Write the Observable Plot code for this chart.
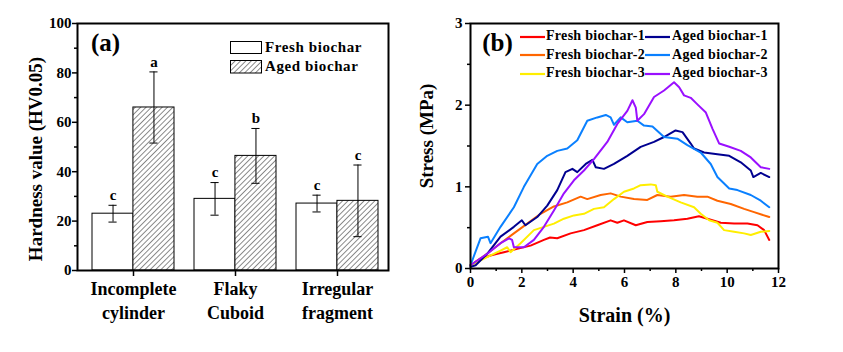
<!DOCTYPE html>
<html><head><meta charset="utf-8">
<script src="https://cdn.jsdelivr.net/npm/d3@7"></script>
<script src="https://cdn.jsdelivr.net/npm/@observablehq/plot@0.6"></script>
<style>
html,body{margin:0;padding:0;background:#fff;}
#fig{position:relative;width:843px;height:352px;overflow:hidden;font-family:"Liberation Serif","Times New Roman",serif;font-weight:bold;color:#000;}
.panel{position:absolute;top:0;}
.lg{position:absolute;white-space:nowrap;}
.sw{position:absolute;}
</style></head><body>
<svg width="0" height="0" style="position:absolute">
  <defs>
    <pattern id="hatch" patternUnits="userSpaceOnUse" width="3.8" height="3.8" patternTransform="rotate(45)">
      <rect width="3.8" height="3.8" fill="white"></rect>
      <line x1="0" y1="0" x2="0" y2="3.8" stroke="black" stroke-width="0.9"></line>
    </pattern>
  </defs>
</svg>
<div id="fig"></div>
<script>
// ---------- Panel (a) data ----------
const categories = ["Incomplete cylinder", "Flaky Cuboid", "Irregular fragment"];
const categoryLabels = ["Incomplete\ncylinder", "Flaky\nCuboid", "Irregular\nfragment"];
const freshHardness = [23.0, 29.0, 27.1];
const freshError = [3.4, 6.6, 3.4];
const agedHardness = [66.0, 46.4, 28.2];
const agedError = [14.4, 11.1, 14.5];
const freshLetters = ["c", "c", "c"];
const agedLetters = ["a", "b", "c"];
const hardnessTicks = [0, 20, 40, 60, 80, 100];
const hardnessMinor = [10, 30, 50, 70, 90];
const barLegend = ["Fresh biochar", "Aged biochar"];

// ---------- Panel (b) data: [strain %, stress MPa] ----------
const fresh1 = [[0,0.04],[0.39,0.12],[0.78,0.16],[1.3,0.2],[1.82,0.24],[2.34,0.28],[2.86,0.35],[3.1,0.38],[3.38,0.37],[3.9,0.43],[4.42,0.47],[4.94,0.53],[5.46,0.59],[5.72,0.56],[5.98,0.59],[6.44,0.53],[6.89,0.57],[7.41,0.58],[7.93,0.59],[8.45,0.61],[8.9,0.64],[9.23,0.61],[9.75,0.56],[10.27,0.55],[10.79,0.55],[11.18,0.53],[11.44,0.47],[11.64,0.35]];
const fresh2 = [[0,0.04],[0.65,0.18],[1.17,0.31],[1.69,0.43],[2.21,0.55],[2.73,0.67],[3.25,0.76],[3.77,0.81],[4.29,0.88],[4.55,0.85],[5.07,0.9],[5.46,0.92],[5.85,0.88],[6.37,0.85],[6.89,0.84],[7.28,0.9],[7.8,0.88],[8.32,0.9],[8.84,0.88],[9.23,0.88],[9.62,0.83],[10.14,0.79],[10.66,0.73],[11.05,0.69],[11.64,0.63]];
const fresh3 = [[0,0.04],[0.65,0.14],[1.17,0.22],[1.43,0.26],[1.56,0.2],[1.95,0.31],[2.47,0.47],[2.86,0.51],[3.25,0.55],[3.64,0.61],[4.03,0.65],[4.42,0.67],[4.81,0.73],[5.2,0.75],[5.59,0.85],[5.98,0.94],[6.37,0.98],[6.63,1.02],[7.02,1.03],[7.22,1.02],[7.28,0.94],[7.67,0.88],[8.19,0.81],[8.71,0.75],[8.97,0.67],[9.3,0.59],[9.62,0.56],[9.88,0.47],[10.27,0.45],[10.66,0.43],[10.92,0.41],[11.31,0.45],[11.64,0.46]];
const aged1 = [[0,0.02],[0.2,0.04],[0.65,0.18],[1.17,0.39],[1.69,0.51],[2.0,0.59],[2.14,0.53],[2.6,0.63],[2.99,0.77],[3.38,0.96],[3.7,1.18],[3.97,1.22],[4.16,1.18],[4.49,1.28],[4.75,1.33],[4.88,1.24],[5.2,1.22],[5.59,1.28],[6.11,1.38],[6.63,1.49],[7.15,1.55],[7.54,1.61],[7.99,1.69],[8.26,1.67],[8.58,1.53],[8.71,1.47],[9.1,1.42],[9.62,1.4],[10.08,1.38],[10.53,1.3],[10.92,1.2],[11.02,1.12],[11.31,1.17],[11.64,1.12]];
const aged2 = [[0,0.04],[0.39,0.37],[0.68,0.39],[0.78,0.31],[1.17,0.51],[1.69,0.75],[2.08,1.0],[2.6,1.28],[2.99,1.38],[3.38,1.44],[3.77,1.47],[4.16,1.57],[4.55,1.81],[4.94,1.85],[5.27,1.88],[5.46,1.85],[5.59,1.76],[5.85,1.85],[6.11,1.79],[6.5,1.81],[6.76,1.75],[7.09,1.74],[7.54,1.61],[8.06,1.59],[8.45,1.51],[8.97,1.42],[9.36,1.28],[9.62,1.12],[10.08,0.98],[10.4,0.96],[10.92,0.9],[11.31,0.83],[11.64,0.75]];
const aged3 = [[0,0.04],[0.65,0.18],[1.17,0.31],[1.5,0.37],[1.62,0.35],[1.69,0.26],[2.08,0.26],[2.47,0.35],[2.86,0.51],[3.25,0.71],[3.64,0.92],[4.03,1.08],[4.42,1.2],[4.81,1.34],[5.33,1.55],[5.72,1.77],[6.11,1.93],[6.31,2.06],[6.44,1.97],[6.5,1.81],[6.76,1.89],[7.15,2.1],[7.54,2.18],[7.93,2.28],[8.13,2.22],[8.32,2.12],[8.58,2.09],[8.84,2.01],[9.17,1.91],[9.43,1.71],[9.69,1.53],[10.08,1.49],[10.53,1.44],[10.92,1.36],[11.31,1.24],[11.64,1.22]];
const seriesNames = ["Fresh biochar-1","Fresh biochar-2","Fresh biochar-3","Aged biochar-1","Aged biochar-2","Aged biochar-3"];
const seriesColors = ["#ff0000","#ff6600","#ffee00","#000090","#0a80ff","#9a10ff"];
const strainTicks = [0, 2, 4, 6, 8, 10, 12];
const strainMinor = [1, 3, 5, 7, 9, 11];
const stressTicks = [0, 1, 2, 3];
const stressMinor = [0.5, 1.5, 2.5];

const FONT = '"Liberation Serif", "Times New Roman", serif';
const fig = document.getElementById("fig");
const fmtInt = d => String(d);

// ---------- Panel (a) ----------
const WA = 400, H = 352;
const mA = {left: 77, right: 12, top: 23, bottom: 82};
const pInner = 0.2, pOuter = 0.12;
const step = (WA - mA.left - mA.right) / (categories.length - pInner + 2 * pOuter);
const band = step * (1 - pInner);
const q = band / 4, cap = 4;

const rowsF = categories.map((c, i) => ({cat: c, v: freshHardness[i], e: freshError[i], lab: freshLetters[i]}));
const rowsG = categories.map((c, i) => ({cat: c, v: agedHardness[i], e: agedError[i], lab: agedLetters[i]}));

const plotA = Plot.plot({
  width: WA, height: H,
  marginLeft: mA.left, marginRight: mA.right, marginTop: mA.top, marginBottom: mA.bottom,
  style: {fontFamily: FONT, fontWeight: "bold", fontSize: "15px", color: "#000", background: "transparent"},
  x: {domain: categories, paddingInner: pInner, paddingOuter: pOuter, align: 0.58, label: null},
  y: {domain: [0, 100], label: null},
  marks: [
    Plot.barY(rowsF, {x: "cat", y: "v", fill: "white", stroke: "black", strokeWidth: 1, insetRight: band / 2}),
    Plot.barY(rowsG, {x: "cat", y: "v", fill: "url(#hatch)", stroke: "black", strokeWidth: 1, insetLeft: band / 2}),
    Plot.ruleX(rowsF, {x: "cat", y1: d => d.v - d.e, y2: d => d.v + d.e, dx: -q, stroke: "black", strokeWidth: 1}),
    Plot.ruleX(rowsG, {x: "cat", y1: d => d.v - d.e, y2: d => d.v + d.e, dx: q, stroke: "black", strokeWidth: 1}),
    Plot.tickY(rowsF, {x: "cat", y: d => d.v + d.e, insetLeft: q - cap, insetRight: band - q - cap, stroke: "black"}),
    Plot.tickY(rowsF, {x: "cat", y: d => d.v - d.e, insetLeft: q - cap, insetRight: band - q - cap, stroke: "black"}),
    Plot.tickY(rowsG, {x: "cat", y: d => d.v + d.e, insetLeft: 3 * q - cap, insetRight: q - cap, stroke: "black"}),
    Plot.tickY(rowsG, {x: "cat", y: d => d.v - d.e, insetLeft: 3 * q - cap, insetRight: q - cap, stroke: "black"}),
    Plot.text(rowsF, {x: "cat", y: d => d.v + d.e, text: "lab", dx: -q, dy: -10, fontSize: 15}),
    Plot.text(rowsG, {x: "cat", y: d => d.v + d.e, text: "lab", dx: q, dy: -10, fontSize: 15}),
    Plot.axisY({ticks: hardnessTicks, tickFormat: fmtInt, tickSize: 5, tickPadding: 1, strokeWidth: 1.5, fontSize: 15, label: null}),
    Plot.axisY({ticks: hardnessMinor, tickSize: 3, tickFormat: () => "", strokeWidth: 1.5, label: null}),
    Plot.axisX({tickSize: 6, tickPadding: 2, strokeWidth: 1.5, fontSize: 18, lineHeight: 1.33, label: null,
      tickFormat: d => categoryLabels[categories.indexOf(d)]}),
    Plot.frame({stroke: "black", strokeWidth: 2}),
    Plot.text(["Hardness value (HV0.05)"], {frameAnchor: "left", textAnchor: "middle", lineAnchor: "middle", rotate: -90, dx: -42, dy: 12, fontSize: 19}),
    Plot.text(["(a)"], {frameAnchor: "top-left", textAnchor: "middle", lineAnchor: "middle", dx: 28, dy: 19, fontSize: 25})
  ]
});
plotA.classList.add("panel");
plotA.style.left = "0px";
fig.appendChild(plotA);

// ---------- Panel (b) ----------
const WB = 443;
const lineData = [];
[fresh1, fresh2, fresh3, aged1, aged2, aged3].forEach((arr, i) => {
  arr.forEach(([s, t]) => lineData.push({series: seriesNames[i], strain: s, stress: t}));
});
const plotB = Plot.plot({
  width: WB, height: H,
  marginLeft: 70, marginRight: 65, marginTop: 23, marginBottom: 84,
  style: {fontFamily: FONT, fontWeight: "bold", fontSize: "15px", color: "#000", background: "transparent"},
  x: {domain: [0, 12], label: null},
  y: {domain: [0, 3], label: null},
  color: {domain: seriesNames, range: seriesColors},
  marks: [
    Plot.line(lineData, {x: "strain", y: "stress", z: "series", stroke: "series", strokeWidth: 2}),
    Plot.axisY({ticks: stressTicks, tickFormat: fmtInt, tickSize: 5, tickPadding: 3, strokeWidth: 1.5, fontSize: 15, label: null}),
    Plot.axisY({ticks: stressMinor, tickSize: 3, tickFormat: () => "", strokeWidth: 1.5, label: null}),
    Plot.axisX({ticks: strainTicks, tickFormat: fmtInt, tickSize: 5, tickPadding: 3, strokeWidth: 1.5, fontSize: 15, label: null}),
    Plot.axisX({ticks: strainMinor, tickSize: 3, tickFormat: () => "", strokeWidth: 1.5, label: null}),
    Plot.frame({stroke: "black", strokeWidth: 2}),
    Plot.text(["Stress (MPa)"], {frameAnchor: "left", textAnchor: "middle", lineAnchor: "middle", rotate: -90, dx: -44, dy: -10, fontSize: 19}),
    Plot.text(["Strain (%)"], {frameAnchor: "bottom", textAnchor: "middle", lineAnchor: "middle", dy: 47, fontSize: 20}),
    Plot.text(["(b)"], {frameAnchor: "top-left", textAnchor: "middle", lineAnchor: "middle", dx: 27, dy: 19, fontSize: 25})
  ]
});
plotB.classList.add("panel");
plotB.style.left = "400px";
fig.appendChild(plotB);

// ---------- Legends ----------
function addLegendText(txt, x, yc, size, spacing) {
  const d = document.createElement("div");
  d.className = "lg";
  d.textContent = txt;
  d.style.left = x + "px";
  d.style.top = (yc - size * 0.6) + "px";
  d.style.fontSize = size + "px";
  d.style.lineHeight = (size * 1.2) + "px";
  d.style.letterSpacing = spacing + "px";
  fig.appendChild(d);
}
function addSwatch(svgInner, x, y, w, h) {
  const ns = "http://www.w3.org/2000/svg";
  const s = document.createElementNS(ns, "svg");
  s.setAttribute("class", "sw");
  s.setAttribute("width", w);
  s.setAttribute("height", h);
  s.style.left = x + "px";
  s.style.top = y + "px";
  s.innerHTML = svgInner;
  fig.appendChild(s);
}
// Panel (a) legend
addSwatch('<rect x="0.5" y="0.5" width="31" height="12" fill="white" stroke="black" stroke-width="1"/>', 230, 41, 32, 13);
addSwatch('<rect x="0.5" y="0.5" width="31" height="12.5" fill="url(#hatch)" stroke="black" stroke-width="1"/>', 230, 59.5, 32, 14);
addLegendText(barLegend[0], 265, 47, 15, 0.6);
addLegendText(barLegend[1], 265, 66, 15, 0.6);
// Panel (b) legend
const rowsY = [36.5, 55, 73.5];
seriesNames.forEach((name, i) => {
  const col = i < 3 ? 0 : 1, row = i % 3;
  const lx = col === 0 ? 520 : 645;
  const tx = col === 0 ? 546 : 672;
  addSwatch(`<line x1="0" y1="2" x2="25" y2="2" stroke="${seriesColors[i]}" stroke-width="2.2"/>`, lx, rowsY[row] - 2, 25, 4);
  addLegendText(name, tx, rowsY[row], 14, 0.3);
});
</script>
</body></html>
